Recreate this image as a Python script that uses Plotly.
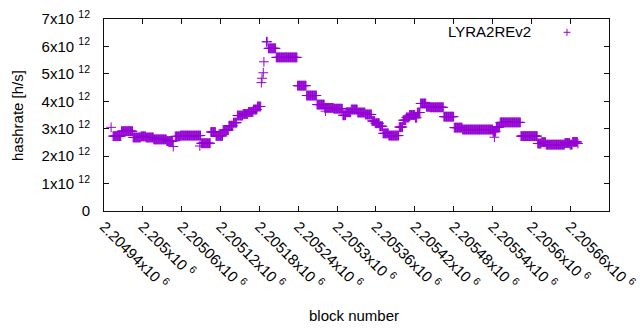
import numpy as np
import plotly.graph_objects as go

# Step segments of the series: first block, last block, hashrate (x1e12 h/s)
seg_start = [2204951, 2204954, 2204967, 2204985, 2204997, 2205005, 2205017, 2205037, 2205047,
             2205050, 2205058, 2205088, 2205090, 2205105, 2205113, 2205124, 2205133, 2205140,
             2205146, 2205155, 2205163, 2205171, 2205177, 2205183, 2205184, 2205186, 2205187,
             2205191, 2205194, 2205206, 2205239, 2205253, 2205269, 2205281, 2205282, 2205295,
             2205309, 2205314, 2205322, 2205332, 2205344, 2205354, 2205359, 2205366, 2205371,
             2205380, 2205396, 2205402, 2205407, 2205412, 2205421, 2205424, 2205429, 2205438,
             2205444, 2205465, 2205481, 2205494, 2205541, 2205543, 2205546, 2205552, 2205584,
             2205610, 2205616, 2205623, 2205652, 2205660, 2205664, 2205672]
seg_end = [2204951, 2204966, 2204984, 2204996, 2205004, 2205016, 2205036, 2205046, 2205047,
           2205057, 2205089, 2205088, 2205104, 2205112, 2205123, 2205132, 2205139, 2205145,
           2205154, 2205162, 2205170, 2205176, 2205182, 2205183, 2205184, 2205186, 2205187,
           2205192, 2205205, 2205238, 2205252, 2205268, 2205280, 2205294, 2205282, 2205308,
           2205313, 2205321, 2205331, 2205343, 2205353, 2205358, 2205365, 2205370, 2205379,
           2205395, 2205401, 2205406, 2205411, 2205420, 2205423, 2205428, 2205437, 2205443,
           2205464, 2205480, 2205493, 2205540, 2205545, 2205543, 2205551, 2205583, 2205609,
           2205615, 2205622, 2205651, 2205659, 2205663, 2205671, 2205672]
seg_hashrate = [3.05, 2.73, 2.91, 2.68, 2.72, 2.68, 2.61, 2.55, 2.35,
                2.72, 2.75, 2.37, 2.47, 2.88, 2.74, 2.95, 3.11, 3.22,
                3.48, 3.54, 3.61, 3.70, 3.81, 4.68, 4.84, 5.04, 5.44,
                6.17, 5.93, 5.60, 4.57, 4.21, 3.88, 3.76, 3.64, 3.73,
                3.49, 3.60, 3.70, 3.59, 3.52, 3.28, 3.20, 3.09, 2.83,
                2.75, 3.06, 3.31, 3.41, 3.50, 3.40, 3.59, 3.92, 3.80,
                3.78, 3.44, 3.04, 2.97, 2.89, 2.69, 3.06, 3.23, 2.73,
                2.46, 2.51, 2.42, 2.48, 2.42, 2.52, 2.46]

x_tick_vals = [2204940, 2205000, 2205060, 2205120, 2205180, 2205240, 2205300,
               2205360, 2205420, 2205480, 2205540, 2205600, 2205660, 2205720]
x_tick_text = ["2.20494x10 <sup>6</sup>", "2.205x10 <sup>6</sup>", "2.20506x10 <sup>6</sup>",
               "2.20512x10 <sup>6</sup>", "2.20518x10 <sup>6</sup>", "2.20524x10 <sup>6</sup>",
               "2.2053x10 <sup>6</sup>", "2.20536x10 <sup>6</sup>", "2.20542x10 <sup>6</sup>",
               "2.20548x10 <sup>6</sup>", "2.20554x10 <sup>6</sup>", "2.2056x10 <sup>6</sup>",
               "2.20566x10 <sup>6</sup>", "2.20572x10 <sup>6</sup>"]
y_tick_vals = [0, 1e12, 2e12, 3e12, 4e12, 5e12, 6e12, 7e12]
y_tick_text = ["0", "1x10 <sup>12</sup>", "2x10 <sup>12</sup>", "3x10 <sup>12</sup>",
               "4x10 <sup>12</sup>", "5x10 <sup>12</sup>", "6x10 <sup>12</sup>", "7x10 <sup>12</sup>"]

series_name = "LYRA2REv2"
color = "#9400D3"
frame_color = "#101010"

blocks = []
values = []
for s, e, v in zip(seg_start, seg_end, seg_hashrate):
    for b in range(s, e + 1):
        blocks.append(b)
        values.append(v * 1e12)

fig = go.Figure()
fig.add_trace(go.Scatter(
    x=blocks, y=values, mode="markers", name=series_name, showlegend=False,
    marker=dict(symbol="cross-thin", size=7, color=color, line=dict(color=color, width=1)),
))

FONT = dict(family="Liberation Sans, Arial, sans-serif", size=15, color="black")

axis_common = dict(showgrid=False, zeroline=False, showline=True, linecolor=frame_color,
                   linewidth=1, mirror="allticks", ticks="inside", ticklen=5, tickwidth=1,
                   tickcolor=frame_color, tickfont=FONT)
fig.update_xaxes(range=[2204940, 2205720], tickmode="array", tickvals=x_tick_vals,
                 ticktext=x_tick_text, tickangle=45, automargin=False, **axis_common)
fig.update_yaxes(range=[0, 7e12], tickmode="array", tickvals=y_tick_vals,
                 ticktext=y_tick_text, automargin=False, ticklabelstandoff=10, **axis_common)

fig.add_annotation(text="hashrate [h/s]", xref="paper", yref="paper", x=-0.1723, y=0.5,
                   textangle=-90, showarrow=False, font=FONT, xanchor="center", yanchor="middle")
fig.add_annotation(text="block number", xref="paper", yref="paper", x=0.495, y=-0.5417,
                   showarrow=False, font=FONT, xanchor="center", yanchor="middle")
fig.add_annotation(text=series_name, xref="paper", yref="paper", x=0.8495, y=0.9375,
                   showarrow=False, font=FONT, xanchor="right", yanchor="middle")
lx, ly, dx, dy = 0.9168, 0.9307, 0.0069, 0.0182
fig.add_shape(type="line", xref="paper", yref="paper", x0=lx - dx, x1=lx + dx, y0=ly, y1=ly,
              line=dict(color=color, width=1))
fig.add_shape(type="line", xref="paper", yref="paper", x0=lx, x1=lx, y0=ly - dy, y1=ly + dy,
              line=dict(color=color, width=1))

fig.update_layout(width=640, height=330, margin=dict(l=104, r=31, t=19, b=119),
                  paper_bgcolor="white", plot_bgcolor="white", font=FONT)
fig.write_html("out.html", config={"displayModeBar": False},
               post_script="document.body.style.margin='0';")
